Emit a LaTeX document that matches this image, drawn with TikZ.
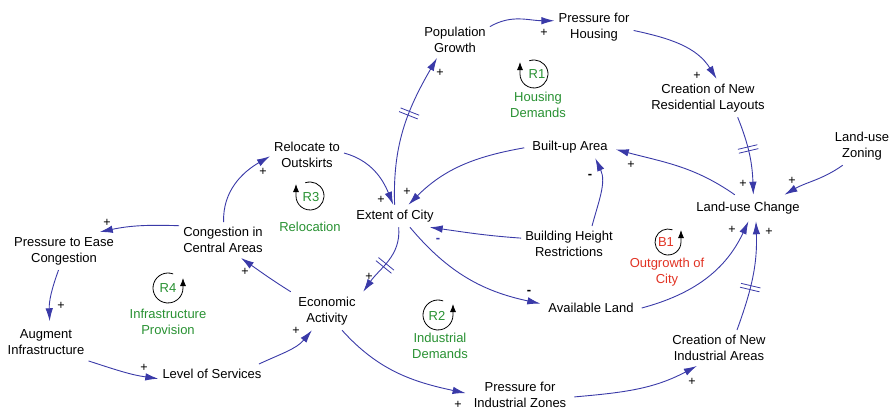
\documentclass[tikz,border=0pt]{standalone}
\usepackage{fontspec}
\setmainfont{Liberation Sans}
\usetikzlibrary{arrows.meta,decorations.markings}

\definecolor{linkblue}{RGB}{58,58,168}
\definecolor{loopgreen}{RGB}{40,145,50}
\definecolor{loopred}{RGB}{225,50,35}

\begin{document}
\begin{tikzpicture}[x=1pt,y=1pt,
  var/.style={align=center,inner xsep=4pt,inner ysep=5pt,
    font=\fontsize{13}{16}\selectfont},
  link/.style={draw=linkblue,line width=0.9pt,
    -{Latex[length=13pt,width=7.5pt]}},
  delaymark/.style={postaction={decorate},
    decoration={markings,mark=at position #1 with
      {\draw[linkblue,line width=0.8pt,-] (-2,-10) -- (-2,10) (2,-10) -- (2,10);}}},
  pos sign/.style={inner sep=0pt,font=\fontsize{12.5}{12.5}\selectfont},
  neg sign/.style={inner sep=0pt,font=\bfseries\fontsize{13}{13}\selectfont},
  looplabel/.style={inner sep=0pt,font=\fontsize{13}{16}\selectfont},
  loopname/.style={align=center,inner sep=0pt,font=\fontsize{13}{16}\selectfont},
  loopsym/.style={draw=black,line width=0.8pt,-{Latex[length=8pt,width=6pt]}}
]
\useasboundingbox (0,0) rectangle (893,-410);

% ---- variables ----
\node[var] (pop) at (455,-40) {Population\\Growth};
\node[var] (ph)  at (594,-27) {Pressure for\\Housing};
\node[var] (cnr) at (708,-98) {Creation of New\\Residential Layouts};
\node[var] (luz) at (862,-146) {Land-use\\Zoning};
\node[var,inner ysep=7pt] (luc) at (748,-208) {Land-use Change};
\node[var,inner xsep=8pt] (bua) at (570,-147) {Built-up Area};
\node[var] (ext) at (395,-216) {Extent of City};
\node[var] (rel) at (307,-155) {Relocate to\\Outskirts};
\node[var] (bhr) at (569,-244) {Building Height\\Restrictions};
\node[var,inner xsep=8pt] (al)  at (591,-308) {Available Land};
\node[var,inner xsep=8pt] (eco) at (327,-311) {Economic\\Activity};
\node[var,inner xsep=8pt] (pfi) at (520,-395) {Pressure for\\Industrial Zones};
\node[var] (cni) at (719,-348) {Creation of New\\Industrial Areas};
\node[var] (cca) at (223,-240) {Congestion in\\Central Areas};
\node[var] (pec) at (64,-251) {Pressure to Ease\\Congestion};
\node[var,inner ysep=8pt] (ai)  at (46,-342) {Augment\\Infrastructure};
\node[var] (los) at (212,-374) {Level of Services};

% ---- causal links ----
\draw[link] (pop.21) to[out=30,in=180] (ph.171);
\draw[link] (ph.-5) to[out=-12,in=122] (cnr.66);
\draw[link,delaymark=0.42] (cnr.-33) to[out=-68,in=92] (luc.68);
\draw[link] (luz.-135) to[out=-145,in=30] (luc.20);
\draw[link] (luc.135) to[out=145,in=-15] (bua.-3);
\draw[link] (bua.181) to[out=190,in=45] (ext.40);
\draw[link] (bhr.38) to[out=75,in=-65] (bua.-24);
\draw[link] (bhr.173) to[out=176,in=-8] (ext.-18);
\draw[link] (ext.-37) to[out=-50,in=168] (al.175);
\draw[link] (al.0) to[out=15,in=-115] (luc.-88);
\draw[link,delaymark=0.4] (cni.45) to[out=70,in=-88] (luc.-59);
\draw[link,delaymark=0.55] (ext.-72) to[out=-85,in=55] (eco.28);
\draw[link] (eco.152) to[out=148,in=-35] (cca.-45);
\draw[link] (cca.88) to[out=92,in=210] (rel.182);
\draw[link] (cca.162) to[out=178,in=12] (pec.28);
\draw[link] (pec.-106) to[out=-110,in=92] (ai.80);
\draw[link] (ai.-24) to[out=-18,in=172] (los.185);
\draw[link] (los.12) to[out=25,in=-130] (eco.-128);
\draw[link] (eco.-52) to[out=-48,in=168] (pfi.178);
\draw[link] (pfi.-2) to[out=5,in=-152] (cni.-141);
\draw[link] (rel.3) to[out=-15,in=112] (ext.99);
\draw[link,delaymark=0.6] (ext.92) to[out=92,in=-120] (pop.-135);

% ---- polarities ----
\node[pos sign] (sA) at (544,-33) {+};
\node[pos sign] (sB) at (697,-76) {+};
\node[pos sign] (sC) at (743,-184) {+};
\node[pos sign] (sD) at (792,-181) {+};
\node[pos sign] (sE) at (631,-165) {+};
\node[pos sign] (sF) at (407,-192) {+};
\node[neg sign] (sG) at (590,-176) {-};
\node[neg sign,text=linkblue] (sH) at (438,-240) {-};
\node[neg sign] (sI) at (529,-292) {-};
\node[pos sign] (sJ) at (732,-230) {+};
\node[pos sign] (sK) at (769,-232) {+};
\node[pos sign] (sL) at (369,-277) {+};
\node[pos sign] (sM) at (245,-272) {+};
\node[pos sign] (sN) at (263,-172) {+};
\node[pos sign] (sO) at (107,-223) {+};
\node[pos sign] (sP) at (61,-306) {+};
\node[pos sign] (sQ) at (144,-368) {+};
\node[pos sign] (sR) at (296,-331) {+};
\node[pos sign] (sS) at (458,-405) {+};
\node[pos sign] (sT) at (692,-382) {+};
\node[pos sign] (sU) at (381,-200) {+};
\node[pos sign] (sV) at (440,-73) {+};

% ---- loop markers ----
% R1 (clockwise, arrow on the left)
\draw[loopsym] (534,-74) ++(110:14) arc[start angle=110,end angle=-180,radius=14] -- ++(0,12);
\node[looplabel,text=loopgreen] (r1) at (537,-74) {R1};
\node[loopname,text=loopgreen] (r1n) at (538,-105) {Housing\\Demands};

% R3 (clockwise, arrow on the left)
\draw[loopsym] (310,-196) ++(110:14) arc[start angle=110,end angle=-180,radius=14] -- ++(0,12);
\node[looplabel,text=loopgreen] (r3) at (311,-197) {R3};
\node[loopname,text=loopgreen] (r3n) at (310,-227) {Relocation};

% R4 (counter-clockwise, arrow on the right)
\draw[loopsym] (168,-288) ++(70:15) arc[start angle=70,end angle=360,radius=15] -- ++(0,10);
\node[looplabel,text=loopgreen] (r4) at (168,-288) {R4};
\node[loopname,text=loopgreen] (r4n) at (168,-322) {Infrastructure\\Provision};

% R2 (counter-clockwise, arrow on the right)
\draw[loopsym] (438,-315) ++(70:15) arc[start angle=70,end angle=360,radius=15] -- ++(0,11);
\node[looplabel,text=loopgreen] (r2) at (437,-316) {R2};
\node[loopname,text=loopgreen] (r2n) at (440,-346) {Industrial\\Demands};

% B1 (counter-clockwise, arrow on the right)
\draw[loopsym] (668,-242) ++(70:13) arc[start angle=70,end angle=360,radius=13] -- ++(0,12);
\node[looplabel,text=loopred] (b1) at (666,-242) {B1};
\node[loopname,text=loopred] (b1n) at (667,-272) {Outgrowth of\\City};
\end{tikzpicture}
\end{document}
